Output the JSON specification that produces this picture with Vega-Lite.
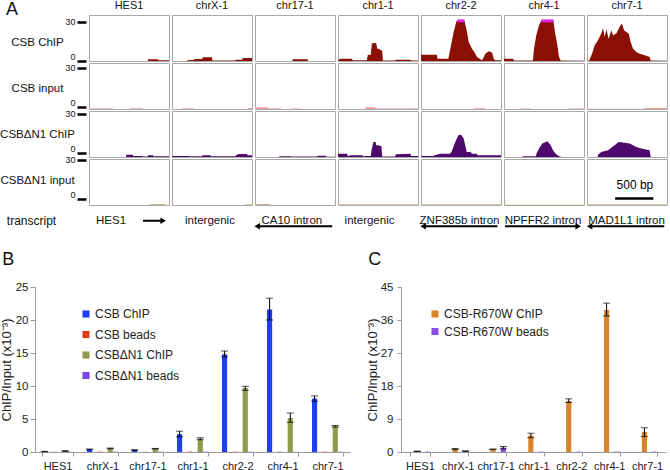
{
  "$schema": "https://vega.github.io/schema/vega-lite/v6.json",
  "padding": 0,
  "background": "white",
  "spacing": 0,
  "resolve": {"scale": {"color": "independent", "shape": "independent"}, "legend": {"color": "independent"}},
  "config": {
    "font": "Liberation Sans",
    "view": {"stroke": null},
    "axis": {"labelColor": "#222", "titleColor": "#222", "domainColor": "#9a9a9a", "tickColor": "#9a9a9a", "grid": false, "titleFontWeight": "normal"},
    "title": {"fontWeight": "normal", "fontSize": 18, "anchor": "start", "frame": "bounds", "color": "#111"},
    "legend": {"labelColor": "#222"}
  },
  "datasets": {
    "tracks": [
      {"locus":"HES1","track":"CSB ChIP","pos":0,"value":0},{"locus":"HES1","track":"CSB ChIP","pos":770,"value":0},{"locus":"HES1","track":"CSB ChIP","pos":775,"value":1.3},{"locus":"HES1","track":"CSB ChIP","pos":905,"value":1.3},{"locus":"HES1","track":"CSB ChIP","pos":910,"value":0.5},{"locus":"HES1","track":"CSB ChIP","pos":1050,"value":0.5},
      {"locus":"HES1","track":"CSB input","pos":0,"value":0.5},{"locus":"HES1","track":"CSB input","pos":310,"value":0.5},{"locus":"HES1","track":"CSB input","pos":315,"value":0},{"locus":"HES1","track":"CSB input","pos":530,"value":0},{"locus":"HES1","track":"CSB input","pos":535,"value":0.5},{"locus":"HES1","track":"CSB input","pos":705,"value":0.5},{"locus":"HES1","track":"CSB input","pos":710,"value":0},{"locus":"HES1","track":"CSB input","pos":1050,"value":0},
      {"locus":"HES1","track":"CSBΔN1 ChIP","pos":0,"value":0},{"locus":"HES1","track":"CSBΔN1 ChIP","pos":485,"value":0},{"locus":"HES1","track":"CSBΔN1 ChIP","pos":490,"value":1.8},{"locus":"HES1","track":"CSBΔN1 ChIP","pos":575,"value":1.8},{"locus":"HES1","track":"CSBΔN1 ChIP","pos":580,"value":0.8},{"locus":"HES1","track":"CSBΔN1 ChIP","pos":705,"value":0.8},{"locus":"HES1","track":"CSBΔN1 ChIP","pos":710,"value":0.3},{"locus":"HES1","track":"CSBΔN1 ChIP","pos":770,"value":0.3},{"locus":"HES1","track":"CSBΔN1 ChIP","pos":775,"value":1.3},{"locus":"HES1","track":"CSBΔN1 ChIP","pos":840,"value":1.3},{"locus":"HES1","track":"CSBΔN1 ChIP","pos":845,"value":0.5},{"locus":"HES1","track":"CSBΔN1 ChIP","pos":1050,"value":0.5},
      {"locus":"HES1","track":"CSBΔN1 input","pos":0,"value":0},{"locus":"HES1","track":"CSBΔN1 input","pos":800,"value":0},{"locus":"HES1","track":"CSBΔN1 input","pos":805,"value":0.5},{"locus":"HES1","track":"CSBΔN1 input","pos":1000,"value":0.5},{"locus":"HES1","track":"CSBΔN1 input","pos":1005,"value":0},{"locus":"HES1","track":"CSBΔN1 input","pos":1050,"value":0},

      {"locus":"chrX-1","track":"CSB ChIP","pos":0,"value":0},{"locus":"chrX-1","track":"CSB ChIP","pos":200,"value":0},{"locus":"chrX-1","track":"CSB ChIP","pos":205,"value":0.8},{"locus":"chrX-1","track":"CSB ChIP","pos":290,"value":0.8},{"locus":"chrX-1","track":"CSB ChIP","pos":295,"value":1.5},{"locus":"chrX-1","track":"CSB ChIP","pos":398,"value":1.5},{"locus":"chrX-1","track":"CSB ChIP","pos":400,"value":2.8},{"locus":"chrX-1","track":"CSB ChIP","pos":525,"value":2.8},{"locus":"chrX-1","track":"CSB ChIP","pos":530,"value":0.3},{"locus":"chrX-1","track":"CSB ChIP","pos":830,"value":0.3},{"locus":"chrX-1","track":"CSB ChIP","pos":835,"value":1},{"locus":"chrX-1","track":"CSB ChIP","pos":920,"value":1},{"locus":"chrX-1","track":"CSB ChIP","pos":930,"value":2.3},{"locus":"chrX-1","track":"CSB ChIP","pos":1050,"value":2.3},
      {"locus":"chrX-1","track":"CSB input","pos":0,"value":0},{"locus":"chrX-1","track":"CSB input","pos":130,"value":0},{"locus":"chrX-1","track":"CSB input","pos":135,"value":0.5},{"locus":"chrX-1","track":"CSB input","pos":285,"value":0.5},{"locus":"chrX-1","track":"CSB input","pos":290,"value":0},{"locus":"chrX-1","track":"CSB input","pos":1000,"value":0},{"locus":"chrX-1","track":"CSB input","pos":1005,"value":0.8},{"locus":"chrX-1","track":"CSB input","pos":1050,"value":0.8},
      {"locus":"chrX-1","track":"CSBΔN1 ChIP","pos":0,"value":0.8},{"locus":"chrX-1","track":"CSBΔN1 ChIP","pos":220,"value":0.8},{"locus":"chrX-1","track":"CSBΔN1 ChIP","pos":225,"value":0.5},{"locus":"chrX-1","track":"CSBΔN1 ChIP","pos":395,"value":0.5},{"locus":"chrX-1","track":"CSBΔN1 ChIP","pos":400,"value":1.3},{"locus":"chrX-1","track":"CSBΔN1 ChIP","pos":505,"value":1.3},{"locus":"chrX-1","track":"CSBΔN1 ChIP","pos":510,"value":0.5},{"locus":"chrX-1","track":"CSBΔN1 ChIP","pos":835,"value":0.5},{"locus":"chrX-1","track":"CSBΔN1 ChIP","pos":840,"value":1.5},{"locus":"chrX-1","track":"CSBΔN1 ChIP","pos":880,"value":2.3},{"locus":"chrX-1","track":"CSBΔN1 ChIP","pos":985,"value":2.3},{"locus":"chrX-1","track":"CSBΔN1 ChIP","pos":990,"value":1.3},{"locus":"chrX-1","track":"CSBΔN1 ChIP","pos":1050,"value":1.3},
      {"locus":"chrX-1","track":"CSBΔN1 input","pos":0,"value":0},{"locus":"chrX-1","track":"CSBΔN1 input","pos":950,"value":0},{"locus":"chrX-1","track":"CSBΔN1 input","pos":955,"value":0.4},{"locus":"chrX-1","track":"CSBΔN1 input","pos":1050,"value":0.4},

      {"locus":"chr17-1","track":"CSB ChIP","pos":0,"value":0},{"locus":"chr17-1","track":"CSB ChIP","pos":490,"value":0},{"locus":"chr17-1","track":"CSB ChIP","pos":495,"value":1.3},{"locus":"chr17-1","track":"CSB ChIP","pos":690,"value":1.3},{"locus":"chr17-1","track":"CSB ChIP","pos":695,"value":0},{"locus":"chr17-1","track":"CSB ChIP","pos":1050,"value":0},
      {"locus":"chr17-1","track":"CSB input","pos":0,"value":1.3},{"locus":"chr17-1","track":"CSB input","pos":165,"value":1.3},{"locus":"chr17-1","track":"CSB input","pos":170,"value":0.5},{"locus":"chr17-1","track":"CSB input","pos":340,"value":0.5},{"locus":"chr17-1","track":"CSB input","pos":345,"value":0},{"locus":"chr17-1","track":"CSB input","pos":470,"value":0},{"locus":"chr17-1","track":"CSB input","pos":475,"value":0.4},{"locus":"chr17-1","track":"CSB input","pos":600,"value":0.4},{"locus":"chr17-1","track":"CSB input","pos":605,"value":0},{"locus":"chr17-1","track":"CSB input","pos":1050,"value":0},
      {"locus":"chr17-1","track":"CSBΔN1 ChIP","pos":0,"value":0},{"locus":"chr17-1","track":"CSBΔN1 ChIP","pos":315,"value":0},{"locus":"chr17-1","track":"CSBΔN1 ChIP","pos":320,"value":0.5},{"locus":"chr17-1","track":"CSBΔN1 ChIP","pos":470,"value":0.5},{"locus":"chr17-1","track":"CSBΔN1 ChIP","pos":475,"value":0.3},{"locus":"chr17-1","track":"CSBΔN1 ChIP","pos":815,"value":0.3},{"locus":"chr17-1","track":"CSBΔN1 ChIP","pos":822,"value":1},{"locus":"chr17-1","track":"CSBΔN1 ChIP","pos":930,"value":1},{"locus":"chr17-1","track":"CSBΔN1 ChIP","pos":935,"value":0.2},{"locus":"chr17-1","track":"CSBΔN1 ChIP","pos":1050,"value":0.2},
      {"locus":"chr17-1","track":"CSBΔN1 input","pos":0,"value":0.5},{"locus":"chr17-1","track":"CSBΔN1 input","pos":200,"value":0.5},{"locus":"chr17-1","track":"CSBΔN1 input","pos":205,"value":0},{"locus":"chr17-1","track":"CSBΔN1 input","pos":1050,"value":0},

      {"locus":"chr1-1","track":"CSB ChIP","pos":0,"value":0.3},{"locus":"chr1-1","track":"CSB ChIP","pos":25,"value":1.8},{"locus":"chr1-1","track":"CSB ChIP","pos":180,"value":1.8},{"locus":"chr1-1","track":"CSB ChIP","pos":195,"value":0.5},{"locus":"chr1-1","track":"CSB ChIP","pos":380,"value":0.5},{"locus":"chr1-1","track":"CSB ChIP","pos":390,"value":4.5},{"locus":"chr1-1","track":"CSB ChIP","pos":430,"value":4.8},{"locus":"chr1-1","track":"CSB ChIP","pos":445,"value":13.5},{"locus":"chr1-1","track":"CSB ChIP","pos":500,"value":13.7},{"locus":"chr1-1","track":"CSB ChIP","pos":515,"value":9.4},{"locus":"chr1-1","track":"CSB ChIP","pos":545,"value":9.4},{"locus":"chr1-1","track":"CSB ChIP","pos":550,"value":8.1},{"locus":"chr1-1","track":"CSB ChIP","pos":580,"value":8.1},{"locus":"chr1-1","track":"CSB ChIP","pos":590,"value":0.3},{"locus":"chr1-1","track":"CSB ChIP","pos":750,"value":0.3},{"locus":"chr1-1","track":"CSB ChIP","pos":760,"value":1},{"locus":"chr1-1","track":"CSB ChIP","pos":950,"value":1},{"locus":"chr1-1","track":"CSB ChIP","pos":960,"value":0.3},{"locus":"chr1-1","track":"CSB ChIP","pos":1050,"value":0.3},
      {"locus":"chr1-1","track":"CSB input","pos":0,"value":0},{"locus":"chr1-1","track":"CSB input","pos":360,"value":0},{"locus":"chr1-1","track":"CSB input","pos":365,"value":1.3},{"locus":"chr1-1","track":"CSB input","pos":490,"value":1.3},{"locus":"chr1-1","track":"CSB input","pos":495,"value":0.3},{"locus":"chr1-1","track":"CSB input","pos":940,"value":0.3},{"locus":"chr1-1","track":"CSB input","pos":945,"value":0.5},{"locus":"chr1-1","track":"CSB input","pos":1050,"value":0.5},
      {"locus":"chr1-1","track":"CSBΔN1 ChIP","pos":0,"value":2.5},{"locus":"chr1-1","track":"CSBΔN1 ChIP","pos":120,"value":2.5},{"locus":"chr1-1","track":"CSBΔN1 ChIP","pos":130,"value":0.5},{"locus":"chr1-1","track":"CSBΔN1 ChIP","pos":165,"value":1.3},{"locus":"chr1-1","track":"CSBΔN1 ChIP","pos":320,"value":1.3},{"locus":"chr1-1","track":"CSBΔN1 ChIP","pos":330,"value":0.5},{"locus":"chr1-1","track":"CSBΔN1 ChIP","pos":375,"value":0.8},{"locus":"chr1-1","track":"CSBΔN1 ChIP","pos":430,"value":0.8},{"locus":"chr1-1","track":"CSBΔN1 ChIP","pos":440,"value":5.1},{"locus":"chr1-1","track":"CSBΔN1 ChIP","pos":465,"value":11.5},{"locus":"chr1-1","track":"CSBΔN1 ChIP","pos":495,"value":11.5},{"locus":"chr1-1","track":"CSBΔN1 ChIP","pos":500,"value":8.9},{"locus":"chr1-1","track":"CSBΔN1 ChIP","pos":540,"value":8.9},{"locus":"chr1-1","track":"CSBΔN1 ChIP","pos":545,"value":8.4},{"locus":"chr1-1","track":"CSBΔN1 ChIP","pos":570,"value":8.4},{"locus":"chr1-1","track":"CSBΔN1 ChIP","pos":580,"value":0.4},{"locus":"chr1-1","track":"CSBΔN1 ChIP","pos":750,"value":0.4},{"locus":"chr1-1","track":"CSBΔN1 ChIP","pos":760,"value":2},{"locus":"chr1-1","track":"CSBΔN1 ChIP","pos":950,"value":2.5},{"locus":"chr1-1","track":"CSBΔN1 ChIP","pos":960,"value":0.8},{"locus":"chr1-1","track":"CSBΔN1 ChIP","pos":1050,"value":0.8},
      {"locus":"chr1-1","track":"CSBΔN1 input","pos":0,"value":0.3},{"locus":"chr1-1","track":"CSBΔN1 input","pos":1050,"value":0.3},

      {"locus":"chr2-2","track":"CSB ChIP","pos":0,"value":4.8},{"locus":"chr2-2","track":"CSB ChIP","pos":210,"value":4.8},{"locus":"chr2-2","track":"CSB ChIP","pos":215,"value":1.8},{"locus":"chr2-2","track":"CSB ChIP","pos":360,"value":1.8},{"locus":"chr2-2","track":"CSB ChIP","pos":394,"value":12},{"locus":"chr2-2","track":"CSB ChIP","pos":429,"value":22},{"locus":"chr2-2","track":"CSB ChIP","pos":464,"value":30},{"locus":"chr2-2","track":"CSB ChIP","pos":481,"value":31},{"locus":"chr2-2","track":"CSB ChIP","pos":569,"value":31},{"locus":"chr2-2","track":"CSB ChIP","pos":604,"value":22},{"locus":"chr2-2","track":"CSB ChIP","pos":626,"value":14.5},{"locus":"chr2-2","track":"CSB ChIP","pos":669,"value":9.4},{"locus":"chr2-2","track":"CSB ChIP","pos":700,"value":6.9},{"locus":"chr2-2","track":"CSB ChIP","pos":735,"value":3},{"locus":"chr2-2","track":"CSB ChIP","pos":800,"value":0.5},{"locus":"chr2-2","track":"CSB ChIP","pos":814,"value":1.8},{"locus":"chr2-2","track":"CSB ChIP","pos":844,"value":5.6},{"locus":"chr2-2","track":"CSB ChIP","pos":888,"value":7.4},{"locus":"chr2-2","track":"CSB ChIP","pos":932,"value":6.4},{"locus":"chr2-2","track":"CSB ChIP","pos":954,"value":1.8},{"locus":"chr2-2","track":"CSB ChIP","pos":976,"value":0.5},{"locus":"chr2-2","track":"CSB ChIP","pos":1050,"value":0.5},
      {"locus":"chr2-2","track":"CSB input","pos":0,"value":0},{"locus":"chr2-2","track":"CSB input","pos":690,"value":0},{"locus":"chr2-2","track":"CSB input","pos":695,"value":0.6},{"locus":"chr2-2","track":"CSB input","pos":840,"value":0.6},{"locus":"chr2-2","track":"CSB input","pos":845,"value":0},{"locus":"chr2-2","track":"CSB input","pos":1050,"value":0},
      {"locus":"chr2-2","track":"CSBΔN1 ChIP","pos":0,"value":0.8},{"locus":"chr2-2","track":"CSBΔN1 ChIP","pos":150,"value":0.8},{"locus":"chr2-2","track":"CSBΔN1 ChIP","pos":250,"value":2.5},{"locus":"chr2-2","track":"CSBΔN1 ChIP","pos":380,"value":2.5},{"locus":"chr2-2","track":"CSBΔN1 ChIP","pos":400,"value":3.8},{"locus":"chr2-2","track":"CSBΔN1 ChIP","pos":450,"value":11.5},{"locus":"chr2-2","track":"CSBΔN1 ChIP","pos":490,"value":16.6},{"locus":"chr2-2","track":"CSBΔN1 ChIP","pos":525,"value":17},{"locus":"chr2-2","track":"CSBΔN1 ChIP","pos":560,"value":14},{"locus":"chr2-2","track":"CSBΔN1 ChIP","pos":580,"value":8.9},{"locus":"chr2-2","track":"CSBΔN1 ChIP","pos":600,"value":3.8},{"locus":"chr2-2","track":"CSBΔN1 ChIP","pos":650,"value":3.8},{"locus":"chr2-2","track":"CSBΔN1 ChIP","pos":670,"value":2.5},{"locus":"chr2-2","track":"CSBΔN1 ChIP","pos":735,"value":2.5},{"locus":"chr2-2","track":"CSBΔN1 ChIP","pos":740,"value":1.3},{"locus":"chr2-2","track":"CSBΔN1 ChIP","pos":1050,"value":1.3},
      {"locus":"chr2-2","track":"CSBΔN1 input","pos":0,"value":0.3},{"locus":"chr2-2","track":"CSBΔN1 input","pos":1050,"value":0.3},

      {"locus":"chr4-1","track":"CSB ChIP","pos":0,"value":1.8},{"locus":"chr4-1","track":"CSB ChIP","pos":120,"value":1.8},{"locus":"chr4-1","track":"CSB ChIP","pos":130,"value":0.3},{"locus":"chr4-1","track":"CSB ChIP","pos":380,"value":0.3},{"locus":"chr4-1","track":"CSB ChIP","pos":394,"value":9.4},{"locus":"chr4-1","track":"CSB ChIP","pos":424,"value":19.6},{"locus":"chr4-1","track":"CSB ChIP","pos":459,"value":27},{"locus":"chr4-1","track":"CSB ChIP","pos":490,"value":31},{"locus":"chr4-1","track":"CSB ChIP","pos":648,"value":31},{"locus":"chr4-1","track":"CSB ChIP","pos":669,"value":22},{"locus":"chr4-1","track":"CSB ChIP","pos":700,"value":12},{"locus":"chr4-1","track":"CSB ChIP","pos":722,"value":3},{"locus":"chr4-1","track":"CSB ChIP","pos":744,"value":0.3},{"locus":"chr4-1","track":"CSB ChIP","pos":1050,"value":0.2},
      {"locus":"chr4-1","track":"CSB input","pos":0,"value":0},{"locus":"chr4-1","track":"CSB input","pos":215,"value":0},{"locus":"chr4-1","track":"CSB input","pos":220,"value":0.4},{"locus":"chr4-1","track":"CSB input","pos":350,"value":0.4},{"locus":"chr4-1","track":"CSB input","pos":355,"value":0},{"locus":"chr4-1","track":"CSB input","pos":850,"value":0},{"locus":"chr4-1","track":"CSB input","pos":855,"value":0.4},{"locus":"chr4-1","track":"CSB input","pos":1050,"value":0.4},
      {"locus":"chr4-1","track":"CSBΔN1 ChIP","pos":0,"value":0},{"locus":"chr4-1","track":"CSBΔN1 ChIP","pos":240,"value":0},{"locus":"chr4-1","track":"CSBΔN1 ChIP","pos":250,"value":0.5},{"locus":"chr4-1","track":"CSBΔN1 ChIP","pos":420,"value":0.5},{"locus":"chr4-1","track":"CSBΔN1 ChIP","pos":425,"value":2.5},{"locus":"chr4-1","track":"CSBΔN1 ChIP","pos":460,"value":6.4},{"locus":"chr4-1","track":"CSBΔN1 ChIP","pos":503,"value":10.2},{"locus":"chr4-1","track":"CSBΔN1 ChIP","pos":569,"value":12},{"locus":"chr4-1","track":"CSBΔN1 ChIP","pos":613,"value":8.9},{"locus":"chr4-1","track":"CSBΔN1 ChIP","pos":643,"value":5.1},{"locus":"chr4-1","track":"CSBΔN1 ChIP","pos":678,"value":2.5},{"locus":"chr4-1","track":"CSBΔN1 ChIP","pos":722,"value":0.5},{"locus":"chr4-1","track":"CSBΔN1 ChIP","pos":760,"value":0},{"locus":"chr4-1","track":"CSBΔN1 ChIP","pos":1050,"value":0},
      {"locus":"chr4-1","track":"CSBΔN1 input","pos":0,"value":0.2},{"locus":"chr4-1","track":"CSBΔN1 input","pos":1050,"value":0.2},

      {"locus":"chr7-1","track":"CSB ChIP","pos":0,"value":0},{"locus":"chr7-1","track":"CSB ChIP","pos":30,"value":0.3},{"locus":"chr7-1","track":"CSB ChIP","pos":66,"value":5.6},{"locus":"chr7-1","track":"CSB ChIP","pos":101,"value":12},{"locus":"chr7-1","track":"CSB ChIP","pos":144,"value":15.8},{"locus":"chr7-1","track":"CSB ChIP","pos":188,"value":20.9},{"locus":"chr7-1","track":"CSB ChIP","pos":210,"value":25.2},{"locus":"chr7-1","track":"CSB ChIP","pos":232,"value":18.3},{"locus":"chr7-1","track":"CSB ChIP","pos":254,"value":24.2},{"locus":"chr7-1","track":"CSB ChIP","pos":284,"value":17},{"locus":"chr7-1","track":"CSB ChIP","pos":319,"value":23.4},{"locus":"chr7-1","track":"CSB ChIP","pos":341,"value":19.6},{"locus":"chr7-1","track":"CSB ChIP","pos":385,"value":20.9},{"locus":"chr7-1","track":"CSB ChIP","pos":429,"value":26},{"locus":"chr7-1","track":"CSB ChIP","pos":459,"value":28.5},{"locus":"chr7-1","track":"CSB ChIP","pos":486,"value":23.4},{"locus":"chr7-1","track":"CSB ChIP","pos":516,"value":22.1},{"locus":"chr7-1","track":"CSB ChIP","pos":547,"value":20.9},{"locus":"chr7-1","track":"CSB ChIP","pos":573,"value":14.5},{"locus":"chr7-1","track":"CSB ChIP","pos":604,"value":9.4},{"locus":"chr7-1","track":"CSB ChIP","pos":648,"value":6.9},{"locus":"chr7-1","track":"CSB ChIP","pos":691,"value":5.6},{"locus":"chr7-1","track":"CSB ChIP","pos":757,"value":4.3},{"locus":"chr7-1","track":"CSB ChIP","pos":822,"value":3},{"locus":"chr7-1","track":"CSB ChIP","pos":836,"value":0.3},{"locus":"chr7-1","track":"CSB ChIP","pos":1050,"value":0.2},
      {"locus":"chr7-1","track":"CSB input","pos":0,"value":0.2},{"locus":"chr7-1","track":"CSB input","pos":750,"value":0.2},{"locus":"chr7-1","track":"CSB input","pos":757,"value":0.8},{"locus":"chr7-1","track":"CSB input","pos":1050,"value":0.8},
      {"locus":"chr7-1","track":"CSBΔN1 ChIP","pos":0,"value":0},{"locus":"chr7-1","track":"CSBΔN1 ChIP","pos":140,"value":0},{"locus":"chr7-1","track":"CSBΔN1 ChIP","pos":144,"value":1.8},{"locus":"chr7-1","track":"CSBΔN1 ChIP","pos":188,"value":3.8},{"locus":"chr7-1","track":"CSBΔN1 ChIP","pos":276,"value":5.1},{"locus":"chr7-1","track":"CSBΔN1 ChIP","pos":363,"value":8.9},{"locus":"chr7-1","track":"CSBΔN1 ChIP","pos":416,"value":11.5},{"locus":"chr7-1","track":"CSBΔN1 ChIP","pos":494,"value":10.9},{"locus":"chr7-1","track":"CSBΔN1 ChIP","pos":560,"value":10.2},{"locus":"chr7-1","track":"CSBΔN1 ChIP","pos":604,"value":8.9},{"locus":"chr7-1","track":"CSBΔN1 ChIP","pos":648,"value":7.6},{"locus":"chr7-1","track":"CSBΔN1 ChIP","pos":713,"value":6.4},{"locus":"chr7-1","track":"CSBΔN1 ChIP","pos":822,"value":5.1},{"locus":"chr7-1","track":"CSBΔN1 ChIP","pos":836,"value":0},{"locus":"chr7-1","track":"CSBΔN1 ChIP","pos":1050,"value":0},
      {"locus":"chr7-1","track":"CSBΔN1 input","pos":0,"value":0.3},{"locus":"chr7-1","track":"CSBΔN1 input","pos":1050,"value":0.3},
      {"locus":"chr7-1","track":"CSBΔN1 input","kind":"scalebar","pos":370,"pos2":870,"label":"500 bp"}
    ],
    "transcripts": [
      {"locus":"HES1","kind":"label","part":"label","text":"HES1","pos":315},
      {"locus":"HES1","kind":"arrow","part":"label","tail":735,"head":1000,"dir":"right"},
      {"locus":"chrX-1","kind":"label","part":"label","text":"intergenic","pos":525},
      {"locus":"chr17-1","kind":"label","part":"label","text":"CA10 intron","pos":510},
      {"locus":"chr17-1","kind":"arrow","part":"arrow","tail":1040,"head":55,"dir":"left"},
      {"locus":"chr1-1","kind":"label","part":"label","text":"intergenic","pos":440},
      {"locus":"chr2-2","kind":"label","part":"label","text":"ZNF385b intron","pos":532},
      {"locus":"chr2-2","kind":"arrow","part":"arrow","tail":1030,"head":55,"dir":"left"},
      {"locus":"chr4-1","kind":"label","part":"label","text":"NPFFR2 intron","pos":538},
      {"locus":"chr4-1","kind":"arrow","part":"arrow","tail":39,"head":1000,"dir":"right"},
      {"locus":"chr7-1","kind":"label","part":"label","text":"MAD1L1 intron","pos":545},
      {"locus":"chr7-1","kind":"arrow","part":"arrow","tail":1040,"head":60,"dir":"left"}
    ],
    "chipB": [
      {"locus":"HES1","series":"CSB ChIP","value":0.06,"lo":0.03,"hi":0.09},
      {"locus":"HES1","series":"CSB beads","value":0.03},
      {"locus":"HES1","series":"CSBΔN1 ChIP","value":0.15,"lo":0.1,"hi":0.2},
      {"locus":"HES1","series":"CSBΔN1 beads","value":0.03},
      {"locus":"chrX-1","series":"CSB ChIP","value":0.4,"lo":0.35,"hi":0.45},
      {"locus":"chrX-1","series":"CSB beads","value":0.05},
      {"locus":"chrX-1","series":"CSBΔN1 ChIP","value":0.55,"lo":0.5,"hi":0.6},
      {"locus":"chrX-1","series":"CSBΔN1 beads","value":0.04},
      {"locus":"chr17-1","series":"CSB ChIP","value":0.3,"lo":0.25,"hi":0.35},
      {"locus":"chr17-1","series":"CSB beads","value":0.02},
      {"locus":"chr17-1","series":"CSBΔN1 ChIP","value":0.5,"lo":0.46,"hi":0.54},
      {"locus":"chr17-1","series":"CSBΔN1 beads","value":0.02},
      {"locus":"chr1-1","series":"CSB ChIP","value":2.7,"lo":2.3,"hi":3.15},
      {"locus":"chr1-1","series":"CSB beads","value":0.05},
      {"locus":"chr1-1","series":"CSBΔN1 ChIP","value":2.0,"lo":1.85,"hi":2.15},
      {"locus":"chr1-1","series":"CSBΔN1 beads","value":0.04},
      {"locus":"chr2-2","series":"CSB ChIP","value":14.8,"lo":14.4,"hi":15.3},
      {"locus":"chr2-2","series":"CSB beads","value":0.04},
      {"locus":"chr2-2","series":"CSBΔN1 ChIP","value":9.7,"lo":9.35,"hi":9.95},
      {"locus":"chr2-2","series":"CSBΔN1 beads","value":0.03},
      {"locus":"chr4-1","series":"CSB ChIP","value":21.6,"lo":20.0,"hi":23.3},
      {"locus":"chr4-1","series":"CSB beads","value":0.04},
      {"locus":"chr4-1","series":"CSBΔN1 ChIP","value":5.15,"lo":4.5,"hi":5.9},
      {"locus":"chr4-1","series":"CSBΔN1 beads","value":0.03},
      {"locus":"chr7-1","series":"CSB ChIP","value":8.1,"lo":7.7,"hi":8.5},
      {"locus":"chr7-1","series":"CSB beads","value":0.04},
      {"locus":"chr7-1","series":"CSBΔN1 ChIP","value":3.9,"lo":3.78,"hi":4.02},
      {"locus":"chr7-1","series":"CSBΔN1 beads","value":0.03}
    ],
    "chipC": [
      {"locus":"HES1","series":"CSB-R670W ChIP","value":0.2,"lo":0.15,"hi":0.25},
      {"locus":"HES1","series":"CSB-R670W beads","value":0.1},
      {"locus":"chrX-1","series":"CSB-R670W ChIP","value":0.8,"lo":0.65,"hi":0.95},
      {"locus":"chrX-1","series":"CSB-R670W beads","value":0.25,"lo":0.2,"hi":0.3},
      {"locus":"chr17-1","series":"CSB-R670W ChIP","value":0.75,"lo":0.7,"hi":0.8},
      {"locus":"chr17-1","series":"CSB-R670W beads","value":1.2,"lo":0.85,"hi":1.5},
      {"locus":"chr1-1","series":"CSB-R670W ChIP","value":4.5,"lo":3.9,"hi":5.1},
      {"locus":"chr1-1","series":"CSB-R670W beads","value":0.08},
      {"locus":"chr2-2","series":"CSB-R670W ChIP","value":13.9,"lo":13.5,"hi":14.5},
      {"locus":"chr2-2","series":"CSB-R670W beads","value":0.1},
      {"locus":"chr4-1","series":"CSB-R670W ChIP","value":38.7,"lo":37.1,"hi":40.6},
      {"locus":"chr4-1","series":"CSB-R670W beads","value":0.1},
      {"locus":"chr7-1","series":"CSB-R670W ChIP","value":5.5,"lo":4.2,"hi":6.6},
      {"locus":"chr7-1","series":"CSB-R670W beads","value":0.1}
    ]
  },
  "vconcat": [
    {
      "spacing": 0,
      "hconcat": [
        {
          "title": {"text": "A", "offset": -4, "dx": 6},
          "data": {"values": [{"track":"CSB ChIP"},{"track":"CSB input"},{"track":"CSBΔN1 ChIP"},{"track":"CSBΔN1 input"}]},
          "facet": {"row": {"field": "track", "type": "nominal", "sort": ["CSB ChIP","CSB input","CSBΔN1 ChIP","CSBΔN1 input"], "header": null}},
          "spacing": {"row": 0},
          "spec": {
            "width": 42, "height": 46,
            "mark": {"type": "text", "fontSize": 11.5, "dx": -18.5, "baseline": "middle", "color": "#111"},
            "encoding": {
              "text": {"field": "track", "type": "nominal"},
              "y": {"datum": 14, "type": "quantitative", "scale": {"domain": [0, 35], "nice": false},
                "axis": {"orient": "right", "values": [0, 30], "domain": false, "tickColor": "#000", "tickWidth": 2.5, "tickSize": 9, "labelAlign": "right", "labelPadding": -11, "labelFontSize": 9, "labelColor": "#111", "labelOverlap": false, "labelBaseline": {"condition": {"test": "datum.value == 0", "value": "bottom"}, "value": "middle"}, "title": null}}
            }
          }
        },
        {
          "data": {"name": "tracks"},
          "facet": {
            "row": {"field": "track", "type": "nominal", "sort": ["CSB ChIP","CSB input","CSBΔN1 ChIP","CSBΔN1 input"], "header": null},
            "column": {"field": "locus", "type": "nominal", "sort": ["HES1","chrX-1","chr17-1","chr1-1","chr2-2","chr4-1","chr7-1"], "header": {"title": null, "labelFontSize": 11, "labelPadding": 3, "labelColor": "#111"}}
          },
          "spacing": {"row": 0, "column": 1},
          "spec": {
            "width": 80, "height": 46,
            "view": {"stroke": "#a8a8a8"},
            "layer": [
              {
                "transform": [{"filter": "!isValid(datum.kind)"}],
                "mark": {"type": "area", "clip": true},
                "encoding": {
                  "x": {"field": "pos", "type": "quantitative", "scale": {"domain": [0, 1050], "nice": false}, "axis": null},
                  "y": {"field": "value", "type": "quantitative", "scale": {"domain": [0, 35], "nice": false}, "axis": null},
                  "color": {"field": "track", "type": "nominal", "scale": {"domain": ["CSB ChIP","CSB input","CSBΔN1 ChIP","CSBΔN1 input"], "range": ["#8a0f05","#eaa0a0","#4e086c","#c99a5a"]}, "legend": null}
                }
              },
              {
                "transform": [{"filter": "!isValid(datum.kind) && datum.value > 30"}],
                "mark": {"type": "line", "color": "#e020e0", "strokeWidth": 3},
                "encoding": {
                  "x": {"field": "pos", "type": "quantitative"},
                  "y": {"datum": 30.5, "type": "quantitative"}
                }
              },
              {
                "transform": [{"filter": "datum.kind === 'scalebar'"}],
                "mark": {"type": "rule", "color": "#000", "strokeWidth": 2.5},
                "encoding": {
                  "x": {"field": "pos", "type": "quantitative"},
                  "x2": {"field": "pos2"},
                  "y": {"datum": 5, "type": "quantitative"}
                }
              },
              {
                "transform": [{"filter": "datum.kind === 'scalebar'"}],
                "mark": {"type": "text", "fontSize": 12, "align": "right", "baseline": "bottom", "color": "#000"},
                "encoding": {
                  "x": {"field": "pos2", "type": "quantitative"},
                  "y": {"datum": 10, "type": "quantitative"},
                  "text": {"field": "label"}
                }
              }
            ]
          }
        }
      ]
    },
    {
      "spacing": 9,
      "hconcat": [
        {
          "width": 42, "height": 43,
          "data": {"values": [{"text": "transcript", "part": "label"}]},
          "mark": {"type": "text", "fontSize": 12, "dx": -24.5, "baseline": "middle", "color": "#111"},
          "encoding": {
            "text": {"field": "text"},
            "y": {"field": "part", "type": "nominal", "scale": {"type": "point", "domain": ["label", "arrow"], "range": [11, 22]}, "axis": null}
          }
        },
        {
          "data": {"name": "transcripts"},
          "facet": {"column": {"field": "locus", "type": "nominal", "sort": ["HES1","chrX-1","chr17-1","chr1-1","chr2-2","chr4-1","chr7-1"], "header": null}},
          "spacing": {"column": 1},
          "spec": {
            "width": 80, "height": 43,
            "view": {"stroke": "transparent"},
            "layer": [
              {
                "transform": [{"filter": "datum.kind === 'label'"}],
                "mark": {"type": "text", "fontSize": 11.5, "baseline": "middle", "color": "#111"},
                "encoding": {
                  "x": {"field": "pos", "type": "quantitative", "scale": {"domain": [0, 1050], "nice": false}, "axis": null},
                  "y": {"field": "part", "type": "nominal", "scale": {"type": "point", "domain": ["label", "arrow"], "range": [11, 22]}, "axis": null},
                  "text": {"field": "text"}
                }
              },
              {
                "transform": [{"filter": "datum.kind === 'arrow'"}],
                "mark": {"type": "rule", "color": "#000", "strokeWidth": 2},
                "encoding": {
                  "x": {"field": "tail", "type": "quantitative"},
                  "x2": {"field": "head"},
                  "y": {"field": "part", "type": "nominal"}
                }
              },
              {
                "transform": [{"filter": "datum.kind === 'arrow'"}],
                "mark": {"type": "point", "filled": true, "size": 40, "color": "#000", "opacity": 1},
                "encoding": {
                  "x": {"field": "head", "type": "quantitative"},
                  "y": {"field": "part", "type": "nominal"},
                  "shape": {"field": "dir", "type": "nominal", "scale": {"domain": ["left", "right"], "range": ["triangle-left", "triangle-right"]}, "legend": null}
                }
              }
            ]
          }
        }
      ]
    },
    {
      "spacing": 16,
      "resolve": {"scale": {"color": "independent"}, "legend": {"color": "independent"}},
      "hconcat": [
        {
          "title": {"text": "B", "offset": 12, "dx": 2},
          "width": 315, "height": 165,
          "data": {"name": "chipB"},
          "encoding": {
            "x": {"field": "locus", "type": "nominal", "sort": ["HES1","chrX-1","chr17-1","chr1-1","chr2-2","chr4-1","chr7-1"], "scale": {"paddingInner": 0.31, "paddingOuter": 0.155},
              "axis": {"title": null, "labelAngle": 0, "tickBand": "extent", "labelFontSize": 11, "labelPadding": 4, "tickSize": 4}},
            "xOffset": {"field": "series", "type": "nominal", "sort": ["CSB ChIP","CSB beads","CSBΔN1 ChIP","CSBΔN1 beads"]}
          },
          "layer": [
            {
              "mark": {"type": "bar"},
              "encoding": {
                "y": {"field": "value", "type": "quantitative", "scale": {"domain": [0, 25], "nice": false},
                  "axis": {"title": "ChIP/Input (x10⁻³)", "values": [0, 5, 10, 15, 20, 25], "labelOverlap": false, "titleFontSize": 13, "labelFontSize": 11.5, "tickSize": 5, "labelPadding": 2, "titlePadding": 2}},
                "color": {"field": "series", "type": "nominal", "scale": {"domain": ["CSB ChIP","CSB beads","CSBΔN1 ChIP","CSBΔN1 beads"], "range": ["#1f3ff2","#e23a1a","#8c9c4c","#7b44e8"]},
                  "legend": {"orient": "none", "legendX": 45, "legendY": 21, "title": null, "symbolType": "square", "symbolSize": 50, "labelFontSize": 12, "rowPadding": 8.5, "labelOffset": 3, "symbolStrokeWidth": 0}}
              }
            },
            {
              "transform": [{"filter": "isValid(datum.lo)"}],
              "mark": {"type": "rule", "color": "#000", "strokeWidth": 1},
              "encoding": {"y": {"field": "lo", "type": "quantitative", "axis": {"title": "ChIP/Input (x10⁻³)", "values": [0, 5, 10, 15, 20, 25], "labelOverlap": false, "titleFontSize": 13, "labelFontSize": 11.5, "tickSize": 5, "labelPadding": 2, "titlePadding": 2}}, "y2": {"field": "hi"}}
            },
            {
              "transform": [{"filter": "isValid(datum.lo)"}],
              "mark": {"type": "tick", "color": "#000", "thickness": 1, "size": 7, "orient": "horizontal"},
              "encoding": {"y": {"field": "hi", "type": "quantitative", "axis": {"title": "ChIP/Input (x10⁻³)", "values": [0, 5, 10, 15, 20, 25], "labelOverlap": false, "titleFontSize": 13, "labelFontSize": 11.5, "tickSize": 5, "labelPadding": 2, "titlePadding": 2}}}
            },
            {
              "transform": [{"filter": "isValid(datum.lo)"}],
              "mark": {"type": "tick", "color": "#000", "thickness": 1, "size": 7, "orient": "horizontal"},
              "encoding": {"y": {"field": "lo", "type": "quantitative", "axis": {"title": "ChIP/Input (x10⁻³)", "values": [0, 5, 10, 15, 20, 25], "labelOverlap": false, "titleFontSize": 13, "labelFontSize": 11.5, "tickSize": 5, "labelPadding": 2, "titlePadding": 2}}}
            }
          ]
        },
        {
          "title": {"text": "C", "offset": 12, "dx": 2},
          "width": 265, "height": 165,
          "data": {"name": "chipC"},
          "encoding": {
            "x": {"field": "locus", "type": "nominal", "sort": ["HES1","chrX-1","chr17-1","chr1-1","chr2-2","chr4-1","chr7-1"], "scale": {"paddingInner": 0.45, "paddingOuter": 0.225},
              "axis": {"title": null, "labelAngle": 0, "tickBand": "extent", "labelFontSize": 11, "labelPadding": 4, "tickSize": 4}},
            "xOffset": {"field": "series", "type": "nominal", "sort": ["CSB-R670W ChIP","CSB-R670W beads"]}
          },
          "layer": [
            {
              "mark": {"type": "bar"},
              "encoding": {
                "y": {"field": "value", "type": "quantitative", "scale": {"domain": [0, 45], "nice": false},
                  "axis": {"title": "ChIP/Input (x10⁻³)", "values": [0, 9, 18, 27, 36, 45], "labelOverlap": false, "titleFontSize": 13, "labelFontSize": 11.5, "tickSize": 4, "labelPadding": 4, "titlePadding": 1}},
                "color": {"field": "series", "type": "nominal", "scale": {"domain": ["CSB-R670W ChIP","CSB-R670W beads"], "range": ["#d8842a","#8c4ce8"]},
                  "legend": {"orient": "none", "legendX": 28, "legendY": 21, "title": null, "symbolType": "square", "symbolSize": 50, "labelFontSize": 12, "rowPadding": 5.5, "labelOffset": 3, "symbolStrokeWidth": 0}}
              }
            },
            {
              "transform": [{"filter": "isValid(datum.lo)"}],
              "mark": {"type": "rule", "color": "#000", "strokeWidth": 1},
              "encoding": {"y": {"field": "lo", "type": "quantitative", "axis": {"title": "ChIP/Input (x10⁻³)", "values": [0, 9, 18, 27, 36, 45], "labelOverlap": false, "titleFontSize": 13, "labelFontSize": 11.5, "tickSize": 4, "labelPadding": 4, "titlePadding": 1}}, "y2": {"field": "hi"}}
            },
            {
              "transform": [{"filter": "isValid(datum.lo)"}],
              "mark": {"type": "tick", "color": "#000", "thickness": 1, "size": 7, "orient": "horizontal"},
              "encoding": {"y": {"field": "hi", "type": "quantitative", "axis": {"title": "ChIP/Input (x10⁻³)", "values": [0, 9, 18, 27, 36, 45], "labelOverlap": false, "titleFontSize": 13, "labelFontSize": 11.5, "tickSize": 4, "labelPadding": 4, "titlePadding": 1}}}
            },
            {
              "transform": [{"filter": "isValid(datum.lo)"}],
              "mark": {"type": "tick", "color": "#000", "thickness": 1, "size": 7, "orient": "horizontal"},
              "encoding": {"y": {"field": "lo", "type": "quantitative", "axis": {"title": "ChIP/Input (x10⁻³)", "values": [0, 9, 18, 27, 36, 45], "labelOverlap": false, "titleFontSize": 13, "labelFontSize": 11.5, "tickSize": 4, "labelPadding": 4, "titlePadding": 1}}}
            }
          ]
        }
      ]
    }
  ]
}
